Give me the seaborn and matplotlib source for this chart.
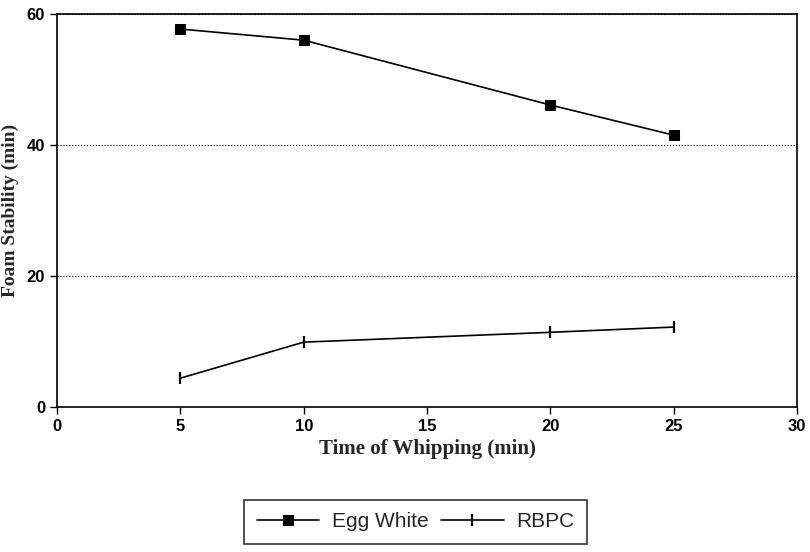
import numpy as np
import pandas as pd
import seaborn as sns
import matplotlib.pyplot as plt

# --- data ---
time_min = [5, 10, 20, 25]
egg_white = [57.7, 56.0, 46.1, 41.5]
rbpc = [4.4, 9.9, 11.4, 12.2]
series_names = ['Egg White', 'RBPC']
series_markers = {'Egg White': 's', 'RBPC': '|'}
x_ticks = [0, 5, 10, 15, 20, 25, 30]
y_ticks = [0, 20, 40, 60]

df = pd.DataFrame({
    'Time': time_min * 2,
    'Stability': egg_white + rbpc,
    'Sample': ['Egg White'] * len(time_min) + ['RBPC'] * len(time_min),
})

sns.set_style('white')
plt.rcParams['font.family'] = ['Liberation Sans', 'DejaVu Sans']

fig = plt.figure(figsize=(8.1, 5.52), dpi=100)
ax = fig.add_axes([0.0704, 0.2627, 0.9136, 0.712])

for name in series_names:
    sub = df[df['Sample'] == name]
    if series_markers[name] == 's':
        sns.lineplot(data=sub, x='Time', y='Stability', ax=ax, color='black',
                     marker='s', markersize=6.5, markeredgecolor='black',
                     linewidth=1.2, label=name)
    else:
        sns.lineplot(data=sub, x='Time', y='Stability', ax=ax, color='black',
                     marker='|', markersize=8, markeredgewidth=1.6,
                     markeredgecolor='black', linewidth=1.2, label=name)

ax.set_xlim(0, 30)
ax.set_ylim(0, 60)
ax.set_xticks(x_ticks)
ax.set_yticks(y_ticks)
ax.tick_params(axis='both', direction='out', length=5, width=1, colors='black',
               labelsize=12, bottom=True, left=True)
for lbl in ax.get_xticklabels() + ax.get_yticklabels():
    lbl.set_fontweight('bold')

ax.yaxis.grid(True, linestyle=':', color='black', linewidth=0.8)
ax.xaxis.grid(False)
for s in ax.spines.values():
    s.set_color('black')
    s.set_linewidth(1.2)

ax.set_xlabel('Time of Whipping (min)', fontsize=15, fontweight='bold',
              family='Liberation Serif', labelpad=4)
ax.set_ylabel('Foam Stability (min)', fontsize=14, fontweight='bold',
              family='Liberation Serif', labelpad=6)

handles, labels = ax.get_legend_handles_labels()
ax.get_legend().remove()
leg = fig.legend(handles, labels, loc='center', bbox_to_anchor=(0.513, 0.0545),
                 ncol=2, frameon=True, fancybox=False, fontsize=15,
                 handlelength=3.0, handletextpad=0.6, columnspacing=0.6,
                 borderpad=0.6)
leg.get_frame().set_edgecolor('black')
leg.get_frame().set_linewidth(1.2)

fig.savefig('out.png', dpi=100)
